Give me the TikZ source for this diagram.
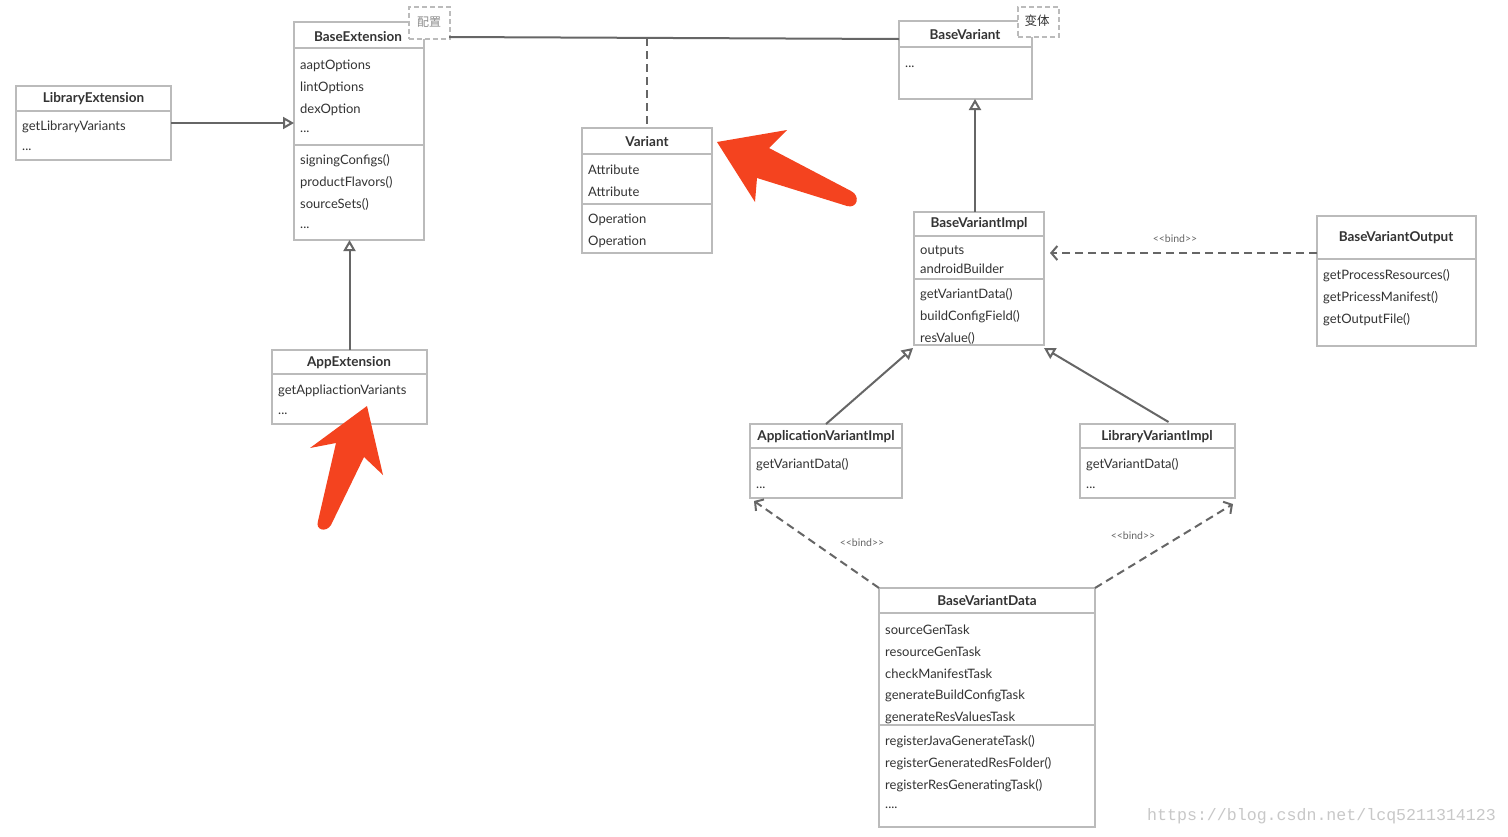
\documentclass[tikz,border=0pt]{standalone}
\usepackage{fontspec}
\setmainfont{Lato}
\newfontfamily\lblfont{Lato}[Ligatures=TeXOff]
\newfontfamily\cjk{Noto Sans CJK SC}
\newfontfamily\wmfont{Liberation Mono}
\usetikzlibrary{arrows.meta,calc}
\definecolor{boxgray}{HTML}{BBBBBB}
\definecolor{linegray}{HTML}{666666}
\definecolor{txt}{HTML}{333333}
\definecolor{lblgray}{HTML}{666666}
\definecolor{redarrow}{HTML}{F4431F}
\definecolor{wmgray}{HTML}{C8C8C8}
\newcommand{\bindlbl}{<\kern0pt<bind>\kern0pt>}
\begin{document}
\begin{tikzpicture}[x=1pt,y=-1pt,
 umlbox/.style={draw=boxgray, line width=1.6pt, anchor=north west, inner sep=0pt, outer sep=0pt},
 divider/.style={draw=boxgray, line width=1.6pt},
 ttl/.style={font=\fontsize{13.5}{15}\selectfont\bfseries, text=txt, inner sep=0pt, yshift=-1pt},
 item/.style={font=\fontsize{13}{15}\selectfont, text=txt, anchor=west, inner sep=0pt, yshift=-1.5pt},
 gen/.style={draw=linegray, line width=2pt, -{Triangle[open, length=11pt, width=12pt, fill=white]}},
 dep/.style={draw=linegray, line width=2pt, dash pattern=on 8pt off 5pt, -{Straight Barb[length=6pt, width=14pt]}},
 lbl/.style={font=\lblfont\fontsize{10.5}{12}\selectfont, text=lblgray, inner sep=0pt},
 tag/.style={draw=boxgray, fill=white, line width=1.6pt, dash pattern=on 5pt off 3pt, anchor=north west, inner sep=0pt},
]
\fill[white] (0,0) rectangle (1508,836);
\useasboundingbox (0,0) rectangle (1508,836);

% LibraryExtension
\node[umlbox, minimum width=155pt, minimum height=74pt] (libext) at (16,86) {};
\node[ttl] (libextT) at (93.5,98) {LibraryExtension};
\draw[divider] (16,111) -- (171,111);
\node[item] (libext1) at (22,125) {getLibraryVariants};
\node[item] (libext2) at (22,148) {...};

% BaseExtension
\node[umlbox, minimum width=130pt, minimum height=218pt] (bext) at (294,22) {};
\node[ttl] (bextT) at (358,36) {BaseExtension};
\draw[divider] (294,48) -- (424,48);
\node[item] (bext1) at (300,64) {aaptOptions};
\node[item] (bext2) at (300,86) {lintOptions};
\node[item] (bext3) at (300,108) {dexOption};
\node[item] (bext4) at (300,130) {...};
\draw[divider] (294,145) -- (424,145);
\node[item] (bext5) at (300,159) {signingConfigs()};
\node[item] (bext6) at (300,181) {productFlavors()};
\node[item] (bext7) at (300,203) {sourceSets()};
\node[item] (bext8) at (300,226) {...};
\node[tag, minimum width=41pt, minimum height=32pt] (cfgtag) at (408,6) {};
\node[font=\cjk\fontsize{12}{14}\selectfont, text=black!45, inner sep=0pt] (cfgtxt) at (429,22) {配置};

% Variant
\node[umlbox, minimum width=130pt, minimum height=125pt] (var) at (582,128) {};
\node[ttl] (varT) at (647,141) {Variant};
\draw[divider] (582,154) -- (712,154);
\node[item] (var1) at (588,168) {Attribute};
\node[item] (var2) at (588,190) {Attribute};
\draw[divider] (582,204) -- (712,204);
\node[item] (var3) at (588,218) {Operation};
\node[item] (var4) at (588,240) {Operation};

% BaseVariant
\node[umlbox, minimum width=133pt, minimum height=78pt] (bv) at (899,21) {};
\node[ttl] (bvT) at (965,34) {BaseVariant};
\draw[divider] (899,47) -- (1032,47);
\node[item] (bv1) at (905,65) {...};
\node[tag, minimum width=41pt, minimum height=30pt] (vartag) at (1017,6) {};
\node[font=\cjk\fontsize{12.5}{14}\selectfont, text=txt, inner sep=0pt] (vartxt) at (1037,21) {变体};

% BaseVariantImpl
\node[umlbox, minimum width=130pt, minimum height=133pt] (bvi) at (914,212) {};
\node[ttl] (bviT) at (979,223) {BaseVariantImpl};
\draw[divider] (914,236) -- (1044,236);
\node[item] (bvi1) at (920,250) {outputs};
\node[item] (bvi2) at (920,267) {androidBuilder};
\draw[divider] (914,279) -- (1044,279);
\node[item] (bvi3) at (920,293) {getVariantData()};
\node[item] (bvi4) at (920,315) {buildConfigField()};
\node[item] (bvi5) at (920,337) {resValue()};

% BaseVariantOutput
\node[umlbox, minimum width=159pt, minimum height=130pt] (bvo) at (1317,216) {};
\node[ttl] (bvoT) at (1396,237) {BaseVariantOutput};
\draw[divider] (1317,259) -- (1476,259);
\node[item] (bvo1) at (1323,274) {getProcessResources()};
\node[item] (bvo2) at (1323,296) {getPricessManifest()};
\node[item] (bvo3) at (1323,318) {getOutputFile()};

% AppExtension
\node[umlbox, minimum width=155pt, minimum height=74pt] (appext) at (272,350) {};
\node[ttl] (appextT) at (349,362) {AppExtension};
\draw[divider] (272,374) -- (427,374);
\node[item] (appext1) at (278,389) {getAppliactionVariants};
\node[item] (appext2) at (278,412) {...};

% ApplicationVariantImpl
\node[umlbox, minimum width=152pt, minimum height=74pt] (avi) at (750,424) {};
\node[ttl] (aviT) at (826,436) {ApplicationVariantImpl};
\draw[divider] (750,448) -- (902,448);
\node[item] (avi1) at (756,463) {getVariantData()};
\node[item] (avi2) at (756,486) {...};

% LibraryVariantImpl
\node[umlbox, minimum width=155pt, minimum height=74pt] (lvi) at (1080,424) {};
\node[ttl] (lviT) at (1157,436) {LibraryVariantImpl};
\draw[divider] (1080,448) -- (1235,448);
\node[item] (lvi1) at (1086,463) {getVariantData()};
\node[item] (lvi2) at (1086,486) {...};

% BaseVariantData
\node[umlbox, minimum width=216pt, minimum height=239pt] (bvd) at (879,588) {};
\node[ttl] (bvdT) at (987,600) {BaseVariantData};
\draw[divider] (879,613) -- (1095,613);
\node[item] (bvd1) at (885,628) {sourceGenTask};
\node[item] (bvd2) at (885,650) {resourceGenTask};
\node[item] (bvd3) at (885,672) {checkManifestTask};
\node[item] (bvd4) at (885,694) {generateBuildConfigTask};
\node[item] (bvd5) at (885,716) {generateResValuesTask};
\draw[divider] (879,725) -- (1095,725);
\node[item] (bvd6) at (885,740) {registerJavaGenerateTask()};
\node[item] (bvd7) at (885,762) {registerGeneratedResFolder()};
\node[item] (bvd8) at (885,784) {registerResGeneratingTask()};
\node[item] (bvd9) at (885,806) {....};

% coordinates for connector ends
\coordinate (cfgend) at (449,37);
\coordinate (bvstart) at (899,39);
\coordinate (varjoin) at (647,38);
\coordinate (bindtip) at (1050,253);
\coordinate (avitip) at (754,501);
\coordinate (lvitip) at (1233,504);

% connectors
\draw[draw=linegray, line width=2pt] (cfgend) -- (bvstart);
\draw[draw=linegray, line width=2pt, dash pattern=on 8pt off 5pt] (varjoin) -- (var.north);
\draw[gen] (libext.east) -- (libext.east -| bext.west);
\draw[gen] (appext.north) -- (appext.north |- bext.south);
\draw[gen] ($(bvi.north)+(-4,0)$) -- ($(bv.south)+(9.5,0)$);
\draw[gen] (avi.north) -- ($(bvi.south west)+(-1,3)$);
\draw[gen] ($(lvi.north)+(11,-2)$) -- ($(bvi.south east)+(0,3)$);
\draw[dep] (bvo.west |- bindtip) -- (bindtip);
\draw[dep] (bvd.north west) -- (avitip);
\draw[dep] (bvd.north east) -- (lvitip);

% labels
\node[lbl] (lbl1) at (1175,239) {\bindlbl};
\node[lbl] (lbl2) at (862,543) {\bindlbl};
\node[lbl] (lbl3) at (1133,536) {\bindlbl};

% red arrows
\fill[redarrow] (717,142) -- (787,130) -- (769,148) -- (851,191)
  .. controls (861,196) and (857,209) .. (847,206) -- (757,178) -- (755,202) -- cycle;
\fill[redarrow] (367,406) -- (383,475) -- (364,457) -- (331,525)
  .. controls (326,533) and (315,530) .. (318,521) -- (336,443) -- (310,448) -- cycle;

% watermark
\node[anchor=west, inner sep=0pt, font=\wmfont\fontsize{16.6}{19}\selectfont, text=wmgray] (wm) at (1147,816) {https://blog.csdn.net/lcq5211314123};
\end{tikzpicture}
\end{document}
